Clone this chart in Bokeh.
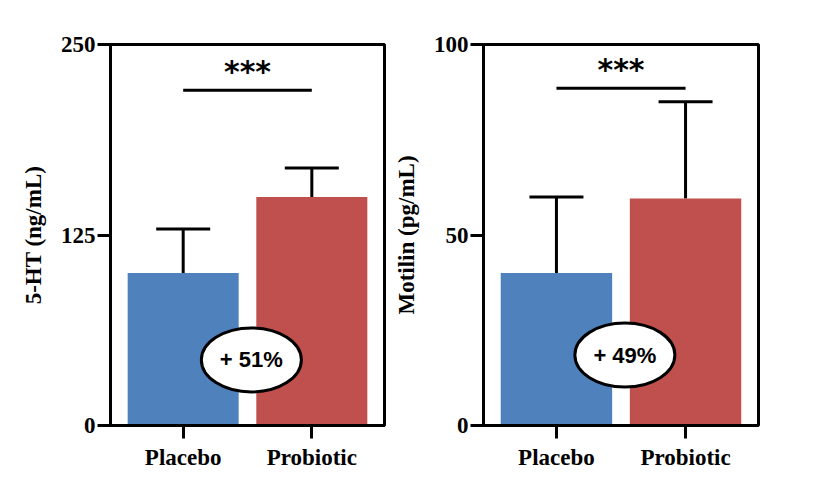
from bokeh.plotting import figure
from bokeh.layouts import row
from bokeh.models import FactorRange, Range1d, FixedTicker, Whisker, ColumnDataSource, TeeHead
from bokeh.embed import file_html
from bokeh.resources import INLINE
from bokeh.core.properties import value

categories = ["Placebo", "Probiotic"]
colors = ["#4F81BD", "#C0504D"]

ht_values = [100, 150]
ht_upper = [129, 169]
ht_ticks = [0, 125, 250]
ht_sig_y = 220
ht_label = "+ 51%"
ht_oval_y = 43

mot_values = [40, 59.6]
mot_upper = [60, 85]
mot_ticks = [0, 50, 100]
mot_sig_y = 88.5
mot_label = "+ 49%"
mot_oval_y = 18.5

SERIF = "Liberation Serif"
SANS = "Liberation Sans"


def panel(vals, upper, ticks, ylabel, sig_y, label, oval_y, border_left, border_right, frame_w):
    ymax = ticks[-1]
    p = figure(x_range=FactorRange(*categories, range_padding=0.065),
               y_range=Range1d(0, ymax),
               frame_width=frame_w, frame_height=381,
               min_border_left=border_left, min_border_right=border_right,
               min_border_top=44, min_border_bottom=60,
               output_backend="svg", toolbar_location=None)
    src = ColumnDataSource(dict(x=categories, top=vals, upper=upper, color=colors))
    p.vbar(x="x", top="top", width=0.863, fill_color="color", line_color=None, source=src)
    w = Whisker(base="x", upper="upper", lower="top", source=src,
                line_width=3, line_color="black",
                upper_head=TeeHead(size=54, line_width=3, line_color="black"),
                lower_head=None)
    p.add_layout(w)
    # significance bar
    p.segment(x0=[categories[0]], x1=[categories[1]], y0=[sig_y], y1=[sig_y],
              line_width=3, line_color="black")
    mid = len(categories) / 2
    p.text(x=[mid], y=[sig_y], text=["***"], text_font=value("DejaVu Sans"),
           text_font_style="bold", text_font_size="30px", text_align="center",
           text_baseline="bottom", y_offset=-1, text_color="black")
    # oval annotation
    p.ellipse(x=[mid + 0.03], y=[oval_y], width=100, height=64,
              width_units="screen", height_units="screen",
              fill_color="white", line_color="black", line_width=3)
    p.text(x=[mid + 0.03], y=[oval_y], text=[label], text_font=value(SANS),
           text_font_style="bold", text_font_size="22px", text_align="center",
           text_baseline="middle", text_color="black")

    p.grid.visible = False
    p.outline_line_color = "black"
    p.outline_line_width = 3
    p.outline_line_alpha = 1

    p.yaxis.ticker = FixedTicker(ticks=ticks)
    p.yaxis.axis_label = ylabel
    for ax in (p.xaxis[0], p.yaxis[0]):
        ax.axis_line_width = 3
        ax.major_tick_line_width = 3
        ax.major_tick_line_color = "black"
        ax.major_tick_out = 13
        ax.major_tick_in = 0
        ax.minor_tick_line_color = None
        ax.major_label_text_font = SERIF
        ax.major_label_text_font_style = "bold"
        ax.major_label_text_font_size = "23px"
        ax.major_label_text_color = "black"
        ax.axis_label_text_font = SERIF
        ax.axis_label_text_font_style = "bold"
        ax.axis_label_text_font_size = "23px"
        ax.axis_label_text_color = "black"
    p.yaxis.major_label_standoff = 2
    p.yaxis.axis_label_standoff = 12
    p.xaxis.major_label_standoff = 6
    return p


p1 = panel(ht_values, ht_upper, ht_ticks, "5-HT (ng/mL)", ht_sig_y, ht_label, ht_oval_y, 110, 3, 274)
p2 = panel(mot_values, mot_upper, mot_ticks, "Motilin (pg/mL)", mot_sig_y, mot_label, mot_oval_y, 96, 40, 275)

layout = row(p1, p2, spacing=0)
open("out.html", "w").write(file_html(layout, INLINE))
